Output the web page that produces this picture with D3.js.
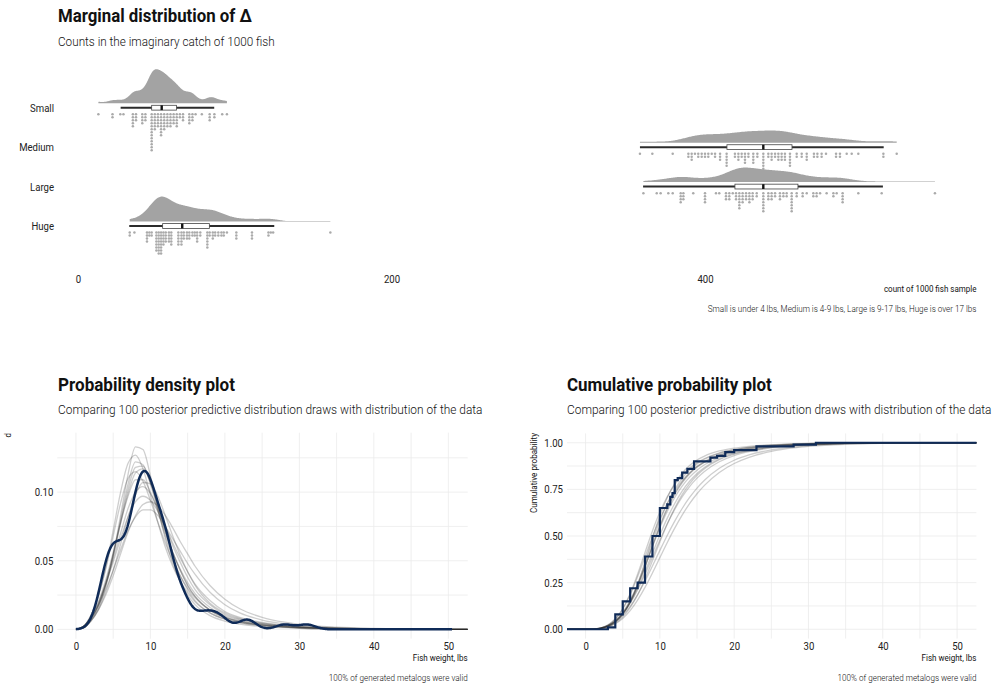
<!DOCTYPE html>
<html>
<head>
<meta charset="utf-8">
<script src="https://cdn.jsdelivr.net/npm/d3@7"></script>
<style>
  body { margin: 0; background: #fff; }
  text { font-family: Roboto, "Noto Sans", sans-serif; }
</style>
</head>
<body>
<svg id="chart" width="1000" height="684"></svg>
<script>
// ---- data ----
const categories = ["Small", "Medium", "Large", "Huge"];

// dot stacks: [count in the 1000 fish catch, number of draws stacked there]
const smallStacks = [[13,1],[22,2],[27,1],[29,1],[35,5],[37,3],[41,4],[43,3],[47,13],[49,6],[51,5],[53,8],[55,6],[57,5],[59,5],[61,4],[63,5],[65,2],[67,3],[71,4],[73,3],[75,1],[79,1],[84,3],[87,2],[92,1],[95,1]];
const mediumStacks = [[358.5,1],[366.4,1],[379.4,1],[389.4,2],[391.5,3],[393.6,1],[395.7,2],[397.9,2],[400,2],[402.1,2],[404.3,1],[406.4,2],[409.6,3],[413.8,5],[419.1,2],[421.3,3],[423.4,2],[425.5,4],[427.7,2],[430.8,4],[433.4,2],[437.2,6],[440.4,2],[442.5,3],[444.7,2],[446.8,3],[448.9,3],[451,3],[454.2,5],[458.5,2],[461.7,2],[464.9,3],[469.5,2],[471.7,2],[474.4,2],[477.2,1],[483.6,2],[486.1,2],[490.4,1],[493.6,1],[497.8,1],[513.8,2],[522.3,1]];
const largeStacks = [[360.7,1],[369.2,1],[371.7,1],[376.6,1],[379.4,1],[384.5,4],[386.2,3],[392.5,1],[400,4],[407,1],[409.1,1],[413.4,3],[415.5,3],[417.7,1],[419.8,3],[421.9,6],[424,4],[426.2,3],[428.3,4],[430.4,3],[433,2],[437.2,7],[440.4,3],[442.5,3],[444.7,2],[447.8,3],[450,2],[452.1,2],[455.3,7],[458.5,2],[462.3,2],[464.9,1],[469.1,2],[471.2,2],[473.4,1],[477.6,1],[481.9,2],[484,1],[487.8,4],[497.8,1],[512.7,1],[546.7,1]];
const hugeStacks = [[33,2],[36,1],[44,4],[45.5,2],[47,2],[50,7],[51.5,8],[53,8],[54.5,5],[56,4],[58,4],[59.5,5],[64,5],[66,5],[67.5,3],[69.5,3],[71,3],[73,2],[74.5,2],[76,4],[78,2],[82.5,6],[84,2],[86,3],[87.5,2],[89.5,2],[91.5,2],[93,2],[95,1],[101,3],[111,3],[121.5,2],[123,1],[124.5,1],[161,1]];

// box stats: [lower whisker, q1, median, q3, upper whisker]
const smallBox = [27.2, 47, 53.4, 62.9, 86.9];
const mediumBox = [358.5, 414, 437.2, 455.5, 514];
const largeBox = [360.5, 419.1, 437.2, 459.3, 513.5];
const hugeBox = [32.7, 54, 66.5, 83.8, 125.2];

const topTicks = [0, 200, 400];

// observed fish weights (lbs) and how many fish had each
const weights = [3, 4, 5, 6, 7, 8, 9, 10, 11, 11.4, 11.7, 12, 12.4, 13, 13.7, 14.6, 16.8, 17.7, 18.8, 20, 23, 28, 31];
const weightCounts = [1, 7, 7, 7, 3, 14, 11, 15, 2, 4, 2, 7, 1, 3, 2, 4, 2, 1, 2, 1, 2, 1, 1];

// posterior predictive density draws, read at these weights
const drawGrid = [0,1,2,3,4,5,6,7,8,9,10,11,12,13,14,15,16,18,20,22,25,28,30,35,40,45,52.6];
const drawDensities = [
  [0,.001,.006,.015,.031,.054,.083,.113,.133,.131,.112,.088,.066,.048,.035,.025,.018,.010,.006,.0038,.002,.0012,.0008,.0003,.0001,0,0],
  [0,.001,.007,.017,.033,.055,.080,.106,.122,.120,.106,.087,.068,.052,.039,.029,.021,.012,.0075,.005,.0028,.0016,.001,.0004,.0001,0,0],
  [0,.002,.008,.018,.034,.054,.077,.099,.114,.117,.107,.090,.072,.056,.043,.032,.024,.014,.009,.006,.0033,.002,.0014,.0006,.0002,.0001,0],
  [0,.002,.009,.020,.036,.056,.078,.097,.109,.109,.100,.086,.070,.056,.044,.034,.026,.016,.010,.0068,.0038,.0023,.0016,.0007,.0003,.0001,0],
  [0,.002,.008,.018,.033,.051,.070,.088,.100,.104,.099,.088,.075,.061,.049,.038,.029,.018,.011,.0075,.0042,.0025,.0018,.0008,.0003,.0001,0],
  [0,.002,.009,.019,.033,.049,.066,.082,.093,.097,.094,.086,.075,.063,.052,.042,.033,.021,.013,.0088,.005,.003,.002,.0009,.0004,.0001,0],
  [0,.002,.008,.017,.029,.043,.058,.072,.082,.087,.087,.083,.075,.066,.057,.048,.040,.027,.018,.012,.0068,.004,.0028,.0012,.0005,.0002,0],
  [0,.002,.010,.024,.045,.072,.100,.121,.127,.117,.098,.078,.060,.046,.035,.027,.020,.012,.0075,.005,.0028,.0016,.001,.0004,.0001,0,0],
  [0,.002,.010,.024,.044,.068,.092,.110,.115,.108,.094,.078,.063,.050,.039,.030,.023,.014,.009,.006,.0034,.002,.0014,.0006,.0002,.0001,0],
  [0,.001,.006,.014,.027,.043,.062,.082,.098,.107,.106,.097,.083,.068,.054,.042,.032,.019,.012,.008,.0045,.0027,.0019,.0008,.0003,.0001,0],
  [0,.001,.007,.017,.032,.053,.078,.102,.118,.119,.107,.090,.072,.056,.043,.032,.024,.014,.0085,.0055,.003,.0018,.0012,.0005,.0002,0,0],
  [0,.001,.006,.014,.025,.039,.055,.071,.083,.091,.093,.090,.083,.074,.064,.055,.046,.032,.022,.015,.0088,.0052,.0036,.0016,.0007,.0003,0]
];

const densXTicks = [0, 10, 20, 30, 40, 50];
const densYTicks = [0, 0.05, 0.10];
const cdfYTicks = [0, 0.25, 0.5, 0.75, 1];

// ---- helpers ----
const svg = d3.select("#chart");
const navy = "#0f2b58";
const gridCol = "#ebebeb";

function squeeze(sel, f) {
  sel.each(function () {
    const w = this.getComputedTextLength();
    this.setAttribute("textLength", w * (f || 0.87));
    this.setAttribute("lengthAdjust", "spacingAndGlyphs");
  });
}
const gauss = u => Math.exp(-u * u / 2) / Math.sqrt(2 * Math.PI);
function nrd0(vals) {
  const s = vals.slice().sort(d3.ascending);
  const iqr = d3.quantile(s, 0.75) - d3.quantile(s, 0.25);
  const lo = Math.min(d3.deviation(s), iqr / 1.34);
  return 0.9 * lo * Math.pow(s.length, -0.2);
}
function kde(vals, bw, xs) {
  return xs.map(x => [x, d3.mean(vals, v => gauss((x - v) / bw)) / bw]);
}
const expand = stacks => stacks.flatMap(([v, n]) => d3.range(n).map(() => v));

// condensed label: horizontally scaled so it spans `width` px
function label(x, y, txt, size, weight, anchor, width, rot) {
  const t = svg.append("text")
    .attr("font-size", size).attr("font-weight", weight || 400)
    .attr("text-anchor", anchor || "start").attr("fill", "#111").text(txt);
  const f = width ? width / t.node().getComputedTextLength() : 0.87;
  t.attr("transform", `translate(${x},${y})` + (rot ? ` rotate(${rot})` : "") + ` scale(${f},1)`);
  return t;
}
function styleAxis(g, size) {
  g.attr("font-family", null).attr("font-size", size);
  g.select(".domain").remove();
  g.selectAll("text").attr("fill", "#222");
  squeeze(g.selectAll("text"));
}

// ---- top panel: marginal distribution ----
label(58, 22, "Marginal distribution of Δ", 18.5, 700, "start", 194);
label(58, 45.5, "Counts in the imaginary catch of 1000 fish", 12.5, 300, "start", 217);

const xTop = d3.scaleLinear().domain([0, 400]).range([78, 705]);
const yRow = d3.scalePoint().domain(categories).range([107.7, 226]);

const stacksBy = { Small: smallStacks, Medium: mediumStacks, Large: largeStacks, Huge: hugeStacks };
const boxBy = { Small: smallBox, Medium: mediumBox, Large: largeBox, Huge: hugeBox };

const dens = {};
categories.forEach(c => {
  const vals = expand(stacksBy[c]);
  const [mn, mx] = d3.extent(vals);
  const xs = d3.range(0, 301).map(i => mn + (mx - mn) * i / 300);
  dens[c] = kde(vals, nrd0(vals) * 0.75, xs);
});
const maxDens = d3.max(categories, c => d3.max(dens[c], d => d[1]));
const thick = d3.scaleLinear().domain([0, maxDens]).range([0, 34]);

categories.forEach(c => {
  const y0 = yRow(c);
  const base = y0 - 4.5;
  svg.append("path")
    .datum(dens[c])
    .attr("fill", "#a3a3a3")
    .attr("d", d3.area().x(d => xTop(d[0])).y0(base).y1(d => base - Math.max(0.6, thick(d[1]))));

  const [lo, q1, med, q3, hi] = boxBy[c];
  svg.append("line").attr("x1", xTop(lo)).attr("x2", xTop(hi)).attr("y1", y0).attr("y2", y0)
    .attr("stroke", "#2b2b2b").attr("stroke-width", 2);
  svg.append("rect").attr("x", xTop(q1)).attr("y", y0 - 2.4)
    .attr("width", xTop(q3) - xTop(q1)).attr("height", 4.8)
    .attr("fill", "#fff").attr("stroke", "#444").attr("stroke-width", 0.8);
  svg.append("line").attr("x1", xTop(med)).attr("x2", xTop(med)).attr("y1", y0 - 2.4).attr("y2", y0 + 2.4)
    .attr("stroke", "#111").attr("stroke-width", 2.4);

  const dots = stacksBy[c].flatMap(([v, n]) => d3.range(n).map(i => ({ v, i })));
  svg.append("g").selectAll("circle").data(dots).join("circle")
    .attr("cx", d => xTop(d.v)).attr("cy", d => y0 + 6.6 + d.i * 3)
    .attr("r", 1.25).attr("fill", "#aaaaaa");
});

svg.append("g").attr("transform", "translate(0,271)")
  .call(d3.axisBottom(xTop).tickValues(topTicks).tickSize(0).tickPadding(4))
  .call(g => styleAxis(g, 11));
svg.append("g").attr("transform", "translate(58,0)")
  .call(d3.axisLeft(yRow).tickSize(0).tickPadding(4))
  .call(g => styleAxis(g, 11));

label(976.5, 292, "count of 1000 fish sample", 8.5, 400, "end", 92.7);
label(976.5, 312, "Small is under 4 lbs, Medium is 4-9 lbs, Large is 9-17 lbs, Huge is over 17 lbs", 8.5, 300, "end", 269);

// ---- observed sample ----
const sample = weights.flatMap((w, i) => d3.range(weightCounts[i]).map(() => w));

// ---- bottom left: density overlay ----
label(58, 390.5, "Probability density plot", 18.5, 700, "start", 177);
label(58, 414, "Comparing 100 posterior predictive distribution draws with distribution of the data", 12.5, 300, "start", 425);

const xD = d3.scaleLinear().domain([-2.5, 52.6]).range([57.3, 467.7]);
const yD = d3.scaleLinear().domain([-0.0068, 0.1433]).range([638.7, 432.7]);

const gD = svg.append("g");
gD.selectAll(".vx").data(d3.range(0, 51, 5)).join("line")
  .attr("x1", d => xD(d)).attr("x2", d => xD(d)).attr("y1", 432.7).attr("y2", 638.7)
  .attr("stroke", gridCol).attr("stroke-width", 0.8);
gD.selectAll(".hy").data(d3.range(0, 0.13, 0.025)).join("line")
  .attr("x1", 57.3).attr("x2", 467.7).attr("y1", d => yD(d)).attr("y2", d => yD(d))
  .attr("stroke", gridCol).attr("stroke-width", 0.8);

const drawLineD = d3.line().x(d => xD(d[0])).y(d => yD(d[1])).curve(d3.curveMonotoneX);
drawDensities.forEach(ys => {
  gD.append("path").datum(drawGrid.map((x, i) => [x, ys[i]]))
    .attr("fill", "none").attr("stroke", "#222").attr("stroke-opacity", 0.22)
    .attr("stroke-width", 1.3).attr("d", drawLineD);
});
const bwData = nrd0(sample);
const obsDens = kde(sample, bwData, d3.range(0, 50.55, 0.1));
gD.append("path").datum(obsDens)
  .attr("fill", "none").attr("stroke", navy).attr("stroke-width", 2.5)
  .attr("d", d3.line().x(d => xD(d[0])).y(d => yD(d[1])));

svg.append("g").attr("transform", "translate(0,638.7)")
  .call(d3.axisBottom(xD).tickValues(densXTicks).tickSize(0).tickPadding(4))
  .call(g => styleAxis(g, 11));
svg.append("g").attr("transform", "translate(57.3,0)")
  .call(d3.axisLeft(yD).tickValues(densYTicks).tickFormat(d3.format(".2f")).tickSize(0).tickPadding(4))
  .call(g => styleAxis(g, 11));

label(467.7, 661, "Fish weight, lbs", 9, 400, "end", 55);
label(467.7, 681, "100% of generated metalogs were valid", 8.5, 300, "end", 139);
label(11, 433, "d", 9, 400, "end", null, -90);

// ---- bottom right: cumulative ----
label(567, 390.5, "Cumulative probability plot", 18.5, 700, "start", 205);
label(567, 414, "Comparing 100 posterior predictive distribution draws with distribution of the data", 12.5, 300, "start", 425);

const xC = d3.scaleLinear().domain([-2.5, 52.6]).range([567, 976.4]);
const yC = d3.scaleLinear().domain([-0.05, 1.05]).range([638.6, 433.4]);

const gC = svg.append("g");
gC.selectAll(".vx").data(d3.range(0, 51, 5)).join("line")
  .attr("x1", d => xC(d)).attr("x2", d => xC(d)).attr("y1", 433.4).attr("y2", 638.6)
  .attr("stroke", gridCol).attr("stroke-width", 0.8);
gC.selectAll(".hy").data(d3.range(0, 1.01, 0.125)).join("line")
  .attr("x1", 567).attr("x2", 976.4).attr("y1", d => yC(d)).attr("y2", d => yC(d))
  .attr("stroke", gridCol).attr("stroke-width", 0.8);

const drawLineC = d3.line().x(d => xC(d[0])).y(d => yC(d[1])).curve(d3.curveMonotoneX);
drawDensities.forEach(ys => {
  const cum = [0];
  for (let i = 1; i < drawGrid.length; i++) {
    cum.push(cum[i - 1] + (ys[i] + ys[i - 1]) / 2 * (drawGrid[i] - drawGrid[i - 1]));
  }
  const total = cum[cum.length - 1];
  const pts = [[-2.5, 0]].concat(drawGrid.map((x, i) => [x, cum[i] / total]));
  gC.append("path").datum(pts)
    .attr("fill", "none").attr("stroke", "#222").attr("stroke-opacity", 0.22)
    .attr("stroke-width", 1.3).attr("d", drawLineC);
});
const ecdf = [[-2.5, 0]];
let run = 0;
weights.forEach((w, i) => { run += weightCounts[i]; ecdf.push([w, run / sample.length]); });
ecdf.push([52.6, 1]);
gC.append("path").datum(ecdf)
  .attr("fill", "none").attr("stroke", navy).attr("stroke-width", 2.2)
  .attr("d", d3.line().x(d => xC(d[0])).y(d => yC(d[1])).curve(d3.curveStepAfter));

svg.append("g").attr("transform", "translate(0,638.6)")
  .call(d3.axisBottom(xC).tickValues(densXTicks).tickSize(0).tickPadding(4))
  .call(g => styleAxis(g, 11));
svg.append("g").attr("transform", "translate(567,0)")
  .call(d3.axisLeft(yC).tickValues(cdfYTicks).tickFormat(d3.format(".2f")).tickSize(0).tickPadding(4))
  .call(g => styleAxis(g, 11));

label(976.4, 661, "Fish weight, lbs", 9, 400, "end", 55);
label(976.4, 681, "100% of generated metalogs were valid", 8.5, 300, "end", 139);
label(537, 433, "Cumulative probability", 9, 400, "end", 80, -90);
</script>
</body>
</html>
